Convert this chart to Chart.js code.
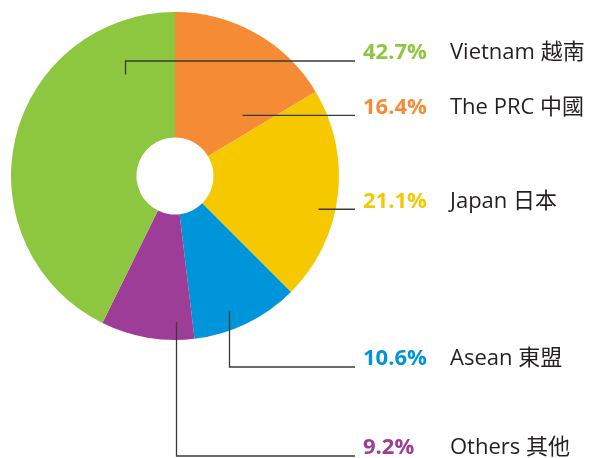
<!DOCTYPE html>
<html>
<head>
<meta charset="utf-8">
<script src="https://cdn.jsdelivr.net/npm/chart.js@4"></script>
<style>
  html, body { margin: 0; padding: 0; background: #fff; }
  #wrap { width: 591px; height: 458px; position: relative; }
</style>
</head>
<body>
<div id="wrap"><canvas id="pie"></canvas></div>
<script>
// data, clockwise from 12 o'clock
const names = ['The PRC 中國', 'Japan 日本', 'Asean 東盟', 'Others 其他', 'Vietnam 越南'];
const shares = [16.4, 21.1, 10.6, 9.2, 42.7];
const colors = ['#f58b35', '#f5c800', '#0095da', '#9e3d97', '#8dc63f'];

// callout layout: where the leader starts inside the slice, and the label row
// at = position along slice (0..1), r = fraction of outer radius, row = y of the leader's horizontal run
const callouts = [
  { at: 0.81, r: 0.55, row: null },
  { at: 0.58, r: 0.895, row: null },
  { at: 0.61, r: 0.89, row: 367 },
  { at: 0.19, r: 0.89, row: 456 },
  { at: 0.83, r: 0.69, row: 61 }
];
const LINE_END = 355;
const PCT_X = 363;
const NAME_X = 450;
const FONT = '"Open Sans", "Noto Sans CJK TC", sans-serif';

const calloutPlugin = {
  id: 'callouts',
  afterDatasetsDraw(chart) {
    const ctx = chart.ctx;
    const arcs = chart.getDatasetMeta(0).data;
    ctx.save();
    arcs.forEach((arc, i) => {
      const c = callouts[i];
      const a = arc.startAngle + (arc.endAngle - arc.startAngle) * c.at;
      const ax = arc.x + Math.cos(a) * arc.outerRadius * c.r;
      const ay = arc.y + Math.sin(a) * arc.outerRadius * c.r;
      const row = c.row === null ? ay : c.row;

      ctx.strokeStyle = '#3a3a3a';
      ctx.lineWidth = 1.3;
      ctx.beginPath();
      ctx.moveTo(Math.round(ax) + 0.5, ay);
      ctx.lineTo(Math.round(ax) + 0.5, row);
      ctx.lineTo(LINE_END, row);
      ctx.stroke();

      ctx.textBaseline = 'middle';
      ctx.textAlign = 'left';
      ctx.font = 'bold 22px ' + FONT;
      ctx.fillStyle = colors[i];
      ctx.fillText(shares[i].toFixed(1) + '%', PCT_X, row - 8);
      ctx.font = '22px ' + FONT;
      ctx.fillStyle = '#231f20';
      ctx.fillText(names[i], NAME_X, row - 8);
    });
    ctx.restore();
  }
};

new Chart(document.getElementById('pie'), {
  type: 'doughnut',
  data: {
    labels: names,
    datasets: [{
      data: shares,
      backgroundColor: colors,
      borderWidth: 0
    }]
  },
  options: {
    responsive: true,
    maintainAspectRatio: false,
    animation: false,
    cutout: '23.5%',
    layout: { padding: { left: 11, top: 12, right: 252, bottom: 118 } },
    plugins: {
      legend: { display: false },
      tooltip: { enabled: false }
    }
  },
  plugins: [calloutPlugin]
});
</script>
</body>
</html>
